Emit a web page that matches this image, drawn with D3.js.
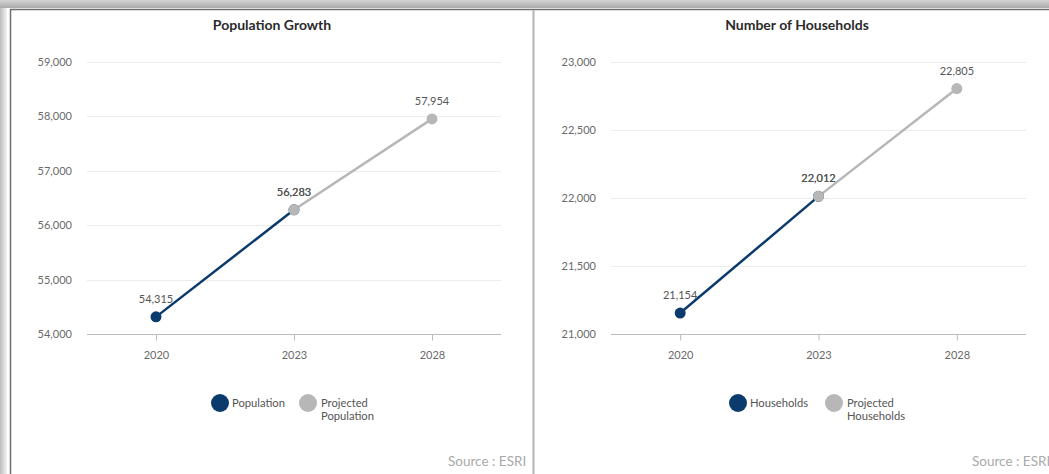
<!DOCTYPE html>
<html>
<head>
<meta charset="utf-8">
<script src="https://cdn.jsdelivr.net/npm/d3@7"></script>
<style>
  body { margin: 0; background: #fff; }
  svg { display: block; font-family: Lato, "Open Sans", sans-serif; }
</style>
</head>
<body>
<div id="chart"></div>
<script>
// Data
const years = ["2020", "2023", "2028"];

const popYears = ["2020", "2023"];
const popValues = [54315, 56283];
const popProjYears = ["2023", "2028"];
const popProjValues = [56283, 57954];
const popTicks = [54000, 55000, 56000, 57000, 58000, 59000];

const hhYears = ["2020", "2023"];
const hhValues = [21154, 22012];
const hhProjYears = ["2023", "2028"];
const hhProjValues = [22012, 22805];
const hhTicks = [21000, 21500, 22000, 22500, 23000];

const navy = "#0b3b6c";
const grey = "#b7b7b7";

const width = 1049;
const height = 474;

const svg = d3.select("#chart")
  .append("svg")
  .attr("width", width)
  .attr("height", height);

// screenshot frame
const defs = svg.append("defs");
const gTop = defs.append("linearGradient").attr("id", "gtop").attr("x1", 0).attr("y1", 0).attr("x2", 0).attr("y2", 1);
gTop.append("stop").attr("offset", "0%").attr("stop-color", "#d4d4d4");
gTop.append("stop").attr("offset", "100%").attr("stop-color", "#a9a9a9");
const gLeft = defs.append("linearGradient").attr("id", "gleft").attr("x1", 0).attr("y1", 0).attr("x2", 1).attr("y2", 0);
gLeft.append("stop").attr("offset", "0%").attr("stop-color", "#bdbdbd");
gLeft.append("stop").attr("offset", "100%").attr("stop-color", "#f4f4f4");

svg.append("rect").attr("x", 0).attr("y", 0).attr("width", 7).attr("height", height).attr("fill", "url(#gleft)");
svg.append("rect").attr("x", 0).attr("y", 0).attr("width", width).attr("height", 8).attr("fill", "url(#gtop)");
svg.append("line").attr("x1", 10).attr("x2", width).attr("y1", 9.5).attr("y2", 9.5).attr("stroke", "#6b6f6e").attr("stroke-width", 1.5);
svg.append("line").attr("x1", 10.5).attr("x2", 10.5).attr("y1", 9).attr("y2", height).attr("stroke", "#6b6f6e").attr("stroke-width", 1.5);
svg.append("line").attr("x1", 533.5).attr("x2", 533.5).attr("y1", 10).attr("y2", height).attr("stroke", "#b2b6b4").attr("stroke-width", 2);

function drawPanel(opt) {
  const g = svg.append("g");

  const x = d3.scalePoint().domain(years).range([opt.left, opt.right]).padding(0.5);
  const y = d3.scaleLinear().domain(opt.domain).range([334, 62]);

  g.append("text")
    .attr("x", opt.titleX)
    .attr("y", 30)
    .attr("text-anchor", "middle")
    .attr("font-size", 14)
    .attr("font-weight", "bold")
    .attr("fill", "#2b2b2b")
    .text(opt.title);

  // grid
  g.selectAll(".grid")
    .data(opt.ticks.slice(1))
    .join("line")
    .attr("x1", opt.left)
    .attr("x2", opt.right)
    .attr("y1", (d) => Math.round(y(d)) + 0.5)
    .attr("y2", (d) => Math.round(y(d)) + 0.5)
    .attr("stroke", "#ececec");

  // y axis labels
  const yAxis = g.append("g")
    .attr("transform", `translate(${opt.left - 12},0)`)
    .call(d3.axisLeft(y).tickValues(opt.ticks).tickSize(0).tickFormat(d3.format(",")));
  yAxis.select(".domain").remove();
  yAxis.selectAll("text")
    .attr("font-family", "Lato, sans-serif")
    .attr("font-size", 11)
    .attr("fill", "#6a6a6a");

  // x axis
  const xAxis = g.append("g")
    .attr("transform", "translate(0,334.5)")
    .call(d3.axisBottom(x).tickSize(6).tickSizeOuter(0));
  xAxis.select(".domain").attr("stroke", "#bcbcbc").attr("d", `M${opt.left},0H${opt.right}`);
  xAxis.selectAll(".tick line").attr("stroke", "#bcbcbc");
  xAxis.selectAll("text")
    .attr("font-family", "Lato, sans-serif")
    .attr("font-size", 11)
    .attr("fill", "#6a6a6a")
    .attr("dy", "1.45em");

  const line = d3.line().x((d) => x(d[0])).y((d) => y(d[1]));

  const actual = d3.zip(opt.years, opt.values);
  const proj = d3.zip(opt.projYears, opt.projValues);

  g.append("path").datum(actual).attr("d", line).attr("fill", "none").attr("stroke", navy).attr("stroke-width", 2.5);
  g.append("path").datum(proj).attr("d", line).attr("fill", "none").attr("stroke", grey).attr("stroke-width", 2.5);

  g.selectAll(".pa").data(actual).join("circle")
    .attr("cx", (d) => x(d[0])).attr("cy", (d) => y(d[1])).attr("r", 5.5).attr("fill", navy);
  g.selectAll(".pp").data(proj).join("circle")
    .attr("cx", (d) => x(d[0])).attr("cy", (d) => y(d[1])).attr("r", 5.5).attr("fill", grey);

  // value labels
  g.selectAll(".la").data(actual).join("text")
    .attr("x", (d) => x(d[0])).attr("y", (d) => y(d[1]) - 14)
    .attr("text-anchor", "middle").attr("font-size", 11).attr("fill", "#555")
    .text((d) => d3.format(",")(d[1]));
  g.selectAll(".lp").data(proj).join("text")
    .attr("x", (d) => x(d[0])).attr("y", (d) => y(d[1]) - 14)
    .attr("text-anchor", "middle").attr("font-size", 11).attr("fill", "#555")
    .text((d) => d3.format(",")(d[1]));

  // legend
  const lg = g.append("g");
  lg.append("circle").attr("cx", opt.legendX).attr("cy", 403).attr("r", 9).attr("fill", navy);
  lg.append("text").attr("x", opt.legendX + 12).attr("y", 407).attr("font-size", 11.2).attr("fill", "#555").text(opt.name);
  lg.append("circle").attr("cx", opt.legendX + opt.legendGap).attr("cy", 403).attr("r", 9).attr("fill", grey);
  const t = lg.append("text").attr("x", opt.legendX + opt.legendGap + 13).attr("y", 407).attr("font-size", 11.2).attr("fill", "#555");
  t.append("tspan").text("Projected");
  t.append("tspan").attr("x", opt.legendX + opt.legendGap + 13).attr("dy", 13).text(opt.name);

  g.append("text")
    .attr("x", opt.sourceX)
    .attr("y", 466)
    .attr("font-size", 13.5)
    .attr("fill", "#a9a9a9")
    .text("Source : ESRI");
}

drawPanel({
  title: "Population Growth", titleX: 272,
  left: 87, right: 501, domain: [54000, 59000], ticks: popTicks,
  years: popYears, values: popValues, projYears: popProjYears, projValues: popProjValues,
  name: "Population", legendX: 220, legendGap: 88, sourceX: 448
});

drawPanel({
  title: "Number of Households", titleX: 797,
  left: 611, right: 1026, domain: [21000, 23000], ticks: hhTicks,
  years: hhYears, values: hhValues, projYears: hhProjYears, projValues: hhProjValues,
  name: "Households", legendX: 738, legendGap: 96, sourceX: 972
});
</script>
</body>
</html>
